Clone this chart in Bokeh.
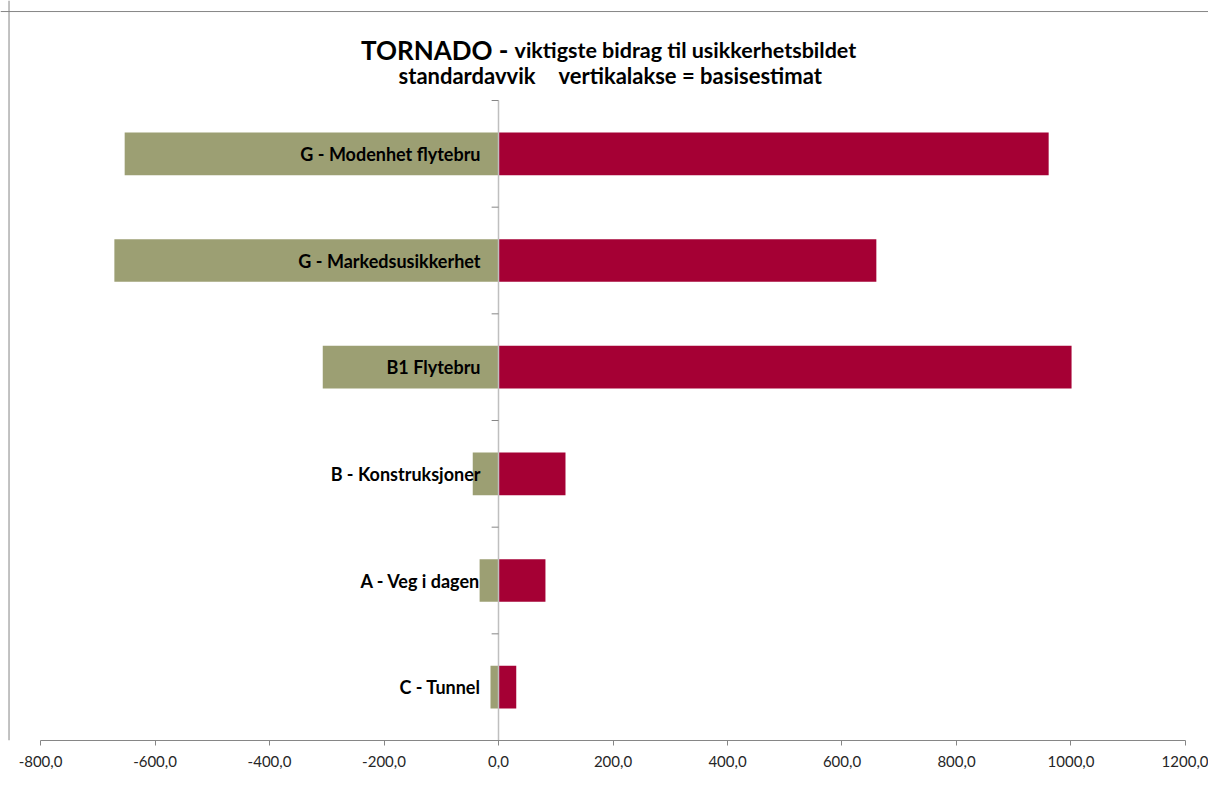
from bokeh.plotting import figure
from bokeh.models import Range1d, FixedTicker, CustomJSTickFormatter, Label, ColumnDataSource, Span
from bokeh.core.properties import value
from bokeh.embed import file_html
from bokeh.resources import INLINE

# ---- data (bottom to top) ----
categories = ["C - Tunnel", "A - Veg i dagen", "B - Konstruksjoner",
              "B1 Flytebru", "G - Markedsusikkerhet", "G - Modenhet flytebru"]
low_values = [-14, -33, -45, -307, -671, -653]
high_values = [31, 82, 117, 1001, 660, 961]
x_ticks = [-800, -600, -400, -200, 0, 200, 400, 600, 800, 1000, 1200]

title_main = "TORNADO -"
title_rest = "viktigste bidrag til usikkerhetsbildet"
subtitle_left = "standardavvik"
subtitle_right = "vertikalakse = basisestimat"

GREEN = "#9C9F73"
RED = "#A50034"
AXIS = "#868686"
FONT = "Lato"

n = len(categories)
ypos = [i + 0.5 for i in range(n)]

p = figure(width=1208, height=796, output_backend="svg", toolbar_location=None,
           x_range=Range1d(-869.9, 1240.2), y_range=Range1d(0, 6.9375),
           y_axis_location=None,
           min_border_left=0, min_border_right=0, min_border_top=0, min_border_bottom=56)
p.outline_line_color = None
p.xgrid.grid_line_color = None
p.ygrid.grid_line_color = None
p.background_fill_color = "white"
p.border_fill_color = "white"

# chart-area border (left and top edges visible)
p.add_layout(Span(location=-855.0, dimension="height", line_color=AXIS, line_width=1))
p.add_layout(Span(location=6.834, dimension="width", line_color=AXIS, line_width=1))

src = ColumnDataSource(dict(y=ypos, low=low_values, high=high_values, cat=categories,
                            zero=[0] * n))
p.hbar(y="y", left="low", right="zero", height=0.4, source=src,
       fill_color=GREEN, line_color=None)
p.hbar(y="y", left="zero", right="high", height=0.4, source=src,
       fill_color=RED, line_color=None)

# vertical axis at 0 with ticks at category boundaries
bounds = list(range(n + 1))
p.segment(x0=[0], y0=[0], x1=[0], y1=[n], line_color="#BFBFBF", line_width=1.5)
p.segment(x0=[-12] * len(bounds), y0=bounds, x1=[0] * len(bounds), y1=bounds,
          line_color=AXIS, line_width=1)

# category labels
p.text(x="zero", y="y", text="cat", source=src, x_offset=-18,
       text_align="right", text_baseline="middle",
       text_font=value(FONT), text_font_style="bold", text_font_size="18px",
       text_color="#000000")

# x axis
ax = p.xaxis[0]
ax.ticker = FixedTicker(ticks=x_ticks)
ax.bounds = (-800, 1200)
ax.formatter = CustomJSTickFormatter(code="return tick.toFixed(1).replace('.', ',');")
ax.axis_line_color = AXIS
ax.major_tick_line_color = AXIS
ax.major_tick_in = 0
ax.major_tick_out = 5
ax.minor_tick_line_color = None
ax.major_label_standoff = 10
ax.major_label_text_font = FONT
ax.major_label_text_font_size = "15px"
ax.major_label_text_color = "#262626"

# titles
p.add_layout(Label(x=17.5, y=6.469, text=title_main, text_align="right",
                   text_baseline="alphabetic", text_font=FONT, text_font_style="bold",
                   text_font_size="26px", text_color="#000000"))
p.add_layout(Label(x=28, y=6.469, text=title_rest, text_align="left",
                   text_baseline="alphabetic", text_font=FONT, text_font_style="bold",
                   text_font_size="21.5px", text_color="#000000"))
p.add_layout(Label(x=64.6, y=6.234, text=subtitle_left, text_align="right",
                   text_baseline="alphabetic", text_font=FONT, text_font_style="bold",
                   text_font_size="22px", text_color="#000000"))
p.add_layout(Label(x=104.8, y=6.234, text=subtitle_right, text_align="left",
                   text_baseline="alphabetic", text_font=FONT, text_font_style="bold",
                   text_font_size="22px", text_color="#000000"))

open("out.html", "w").write(file_html(p, INLINE))
